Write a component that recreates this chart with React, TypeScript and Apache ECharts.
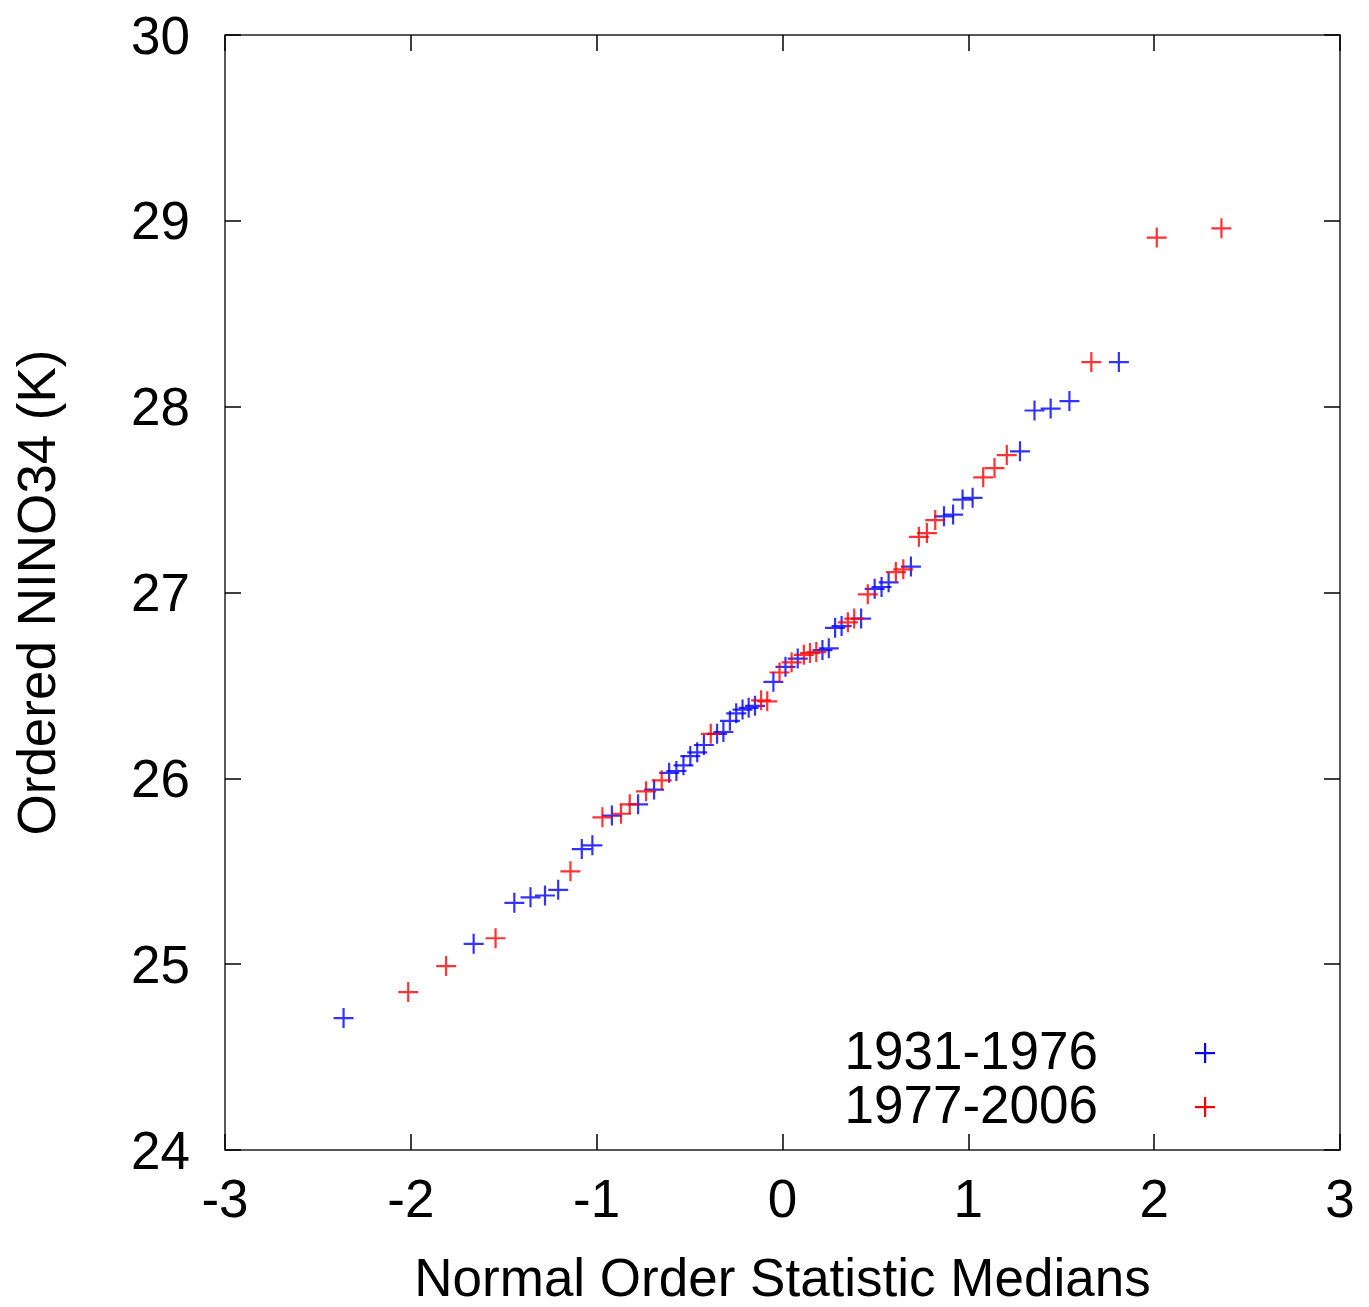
import React, { useEffect, useRef } from "react";
import * as echarts from "echarts";

// Normal order statistic medians (x) and ordered NINO34 values (y, K)
const blueX = [-2.362, -1.662, -1.443, -1.356, -1.278, -1.207, -1.080, -1.023, -0.918, -0.777, -0.691,
  -0.610, -0.571, -0.533, -0.496, -0.459, -0.423, -0.352, -0.318, -0.283, -0.249, -0.215, -0.182, -0.148,
  -0.049, 0.016, 0.082, 0.215, 0.249, 0.283, 0.318, 0.423, 0.496, 0.533, 0.571, 0.691, 0.869, 0.918,
  0.969, 1.023, 1.278, 1.356, 1.443, 1.544, 1.810];
const blueY = [24.71, 25.11, 25.33, 25.36, 25.37, 25.40, 25.62, 25.64, 25.80, 25.86, 25.94,
  26.03, 26.04, 26.07, 26.12, 26.14, 26.18, 26.24, 26.25, 26.31, 26.35, 26.37, 26.38, 26.39,
  26.52, 26.60, 26.645, 26.69, 26.70, 26.81, 26.82, 26.86, 27.02, 27.03, 27.055, 27.14, 27.41, 27.42,
  27.50, 27.51, 27.76, 27.98, 27.99, 28.03, 28.24];
const redX = [-2.014, -1.810, -1.544, -1.141, -0.969, -0.869, -0.822, -0.734, -0.650, -0.386, -0.115,
  -0.082, -0.016, 0.049, 0.115, 0.148, 0.182, 0.352, 0.386, 0.459, 0.610, 0.650, 0.734, 0.777, 0.822,
  1.080, 1.141, 1.207, 1.662, 2.014, 2.362];
const redY = [24.85, 24.99, 25.14, 25.50, 25.79, 25.81, 25.86, 25.93, 25.99, 26.24, 26.42,
  26.415, 26.57, 26.625, 26.665, 26.675, 26.68, 26.84, 26.86, 26.99, 27.11, 27.125, 27.30, 27.32, 27.39,
  27.62, 27.67, 27.74, 28.24, 28.91, 28.96];

const xTicks = [-3, -2, -1, 0, 1, 2, 3];
const yTicks = [24, 25, 26, 27, 28, 29, 30];
const seriesNames = ["1931-1976", "1977-2006"];
const xTitle = "Normal Order Statistic Medians";
const yTitle = "Ordered NINO34 (K)";

const PLUS = "path://M0,9 H20 V11.2 H0 Z M8.9,0 H11.1 V20 H8.9 Z";
const FONT = "Liberation Sans, Arial, sans-serif";
const FS = 53;

export default function App() {
  const ref = useRef<HTMLDivElement>(null);
  useEffect(() => {
    if (!ref.current) return;
    const chart = echarts.init(ref.current, undefined, { renderer: "svg" });
    const zip = (xs: number[], ys: number[]) => xs.map((x, i) => [x, ys[i]]);
    const tick = { show: true, inside: true, length: 16, lineStyle: { color: "#000", width: 1.5 } };
    const xCommon = {
      type: "value",
      min: xTicks[0],
      max: xTicks[xTicks.length - 1],
      interval: 1,
      axisLine: { show: false, onZero: false },
      splitLine: { show: false },
      axisTick: tick,
    };
    const yCommon = {
      type: "value",
      min: yTicks[0],
      max: yTicks[yTicks.length - 1],
      interval: 1,
      axisLine: { show: false, onZero: false },
      splitLine: { show: false },
      axisTick: tick,
    };
    chart.setOption({
      animation: false,
      backgroundColor: "#fff",
      grid: {
        left: 225, top: 35, width: 1115, height: 1115,
        containLabel: false, outerBoundsMode: "none",
        show: true, borderColor: "#222", borderWidth: 1.5, backgroundColor: "transparent",
      },
      xAxis: [
        {
          ...xCommon, position: "bottom",
          axisLabel: { fontSize: FS, color: "#000", fontFamily: FONT, margin: 22 },
          name: xTitle, nameLocation: "middle", nameGap: 102,
          nameTextStyle: { fontSize: FS, lineHeight: 50, color: "#000", fontFamily: FONT },
        },
        { ...xCommon, position: "top", axisLabel: { show: false } },
      ],
      yAxis: [
        {
          ...yCommon, position: "left",
          axisLabel: { fontSize: FS, color: "#000", fontFamily: FONT, margin: 35 },
          name: yTitle, nameLocation: "middle", nameGap: 162, nameRotate: 90,
          nameTextStyle: { fontSize: FS, color: "#000", fontFamily: FONT },
        },
        { ...yCommon, position: "right", axisLabel: { show: false } },
      ],
      series: [
        {
          name: seriesNames[0], type: "scatter", xAxisIndex: 0, yAxisIndex: 0,
          symbol: PLUS, symbolSize: 20, itemStyle: { color: "#0000ff" },
          data: zip(blueX, blueY),
        },
        {
          name: seriesNames[1], type: "scatter", xAxisIndex: 0, yAxisIndex: 0,
          symbol: PLUS, symbolSize: 20, itemStyle: { color: "#ff0000" },
          data: zip(redX, redY),
        },
      ],
      graphic: [
        { type: "text", right: 1369 - 1098, top: 1024, style: { text: seriesNames[0], fontSize: FS, fill: "#000", fontFamily: FONT } },
        { type: "text", right: 1369 - 1098, top: 1078, style: { text: seriesNames[1], fontSize: FS, fill: "#000", fontFamily: FONT } },
        { type: "rect", shape: { x: 1195, y: 1052, width: 20, height: 2.2 }, style: { fill: "#0000ff" } },
        { type: "rect", shape: { x: 1204, y: 1043, width: 2.2, height: 20 }, style: { fill: "#0000ff" } },
        { type: "rect", shape: { x: 1195, y: 1106, width: 20, height: 2.2 }, style: { fill: "#ff0000" } },
        { type: "rect", shape: { x: 1204, y: 1097, width: 2.2, height: 20 }, style: { fill: "#ff0000" } },
      ],
    });
    return () => chart.dispose();
  }, []);
  return <div ref={ref} style={{ position: "fixed", left: 0, top: 0, width: 1369, height: 1307 }} />;
}
